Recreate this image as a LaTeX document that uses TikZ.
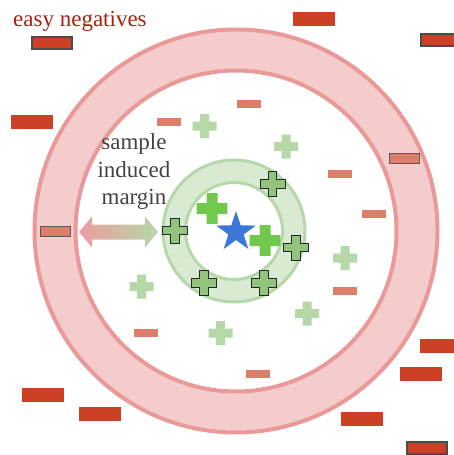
\documentclass[tikz,border=0pt]{standalone}
\usepackage{fontspec}
\setmainfont{Liberation Serif}
\usetikzlibrary{shapes.geometric}

\definecolor{negstrong}{RGB}{204,65,37}
\definecolor{negweak}{RGB}{221,126,107}
\definecolor{ringfill}{RGB}{244,204,204}
\definecolor{ringline}{RGB}{234,153,153}
\definecolor{marginfill}{RGB}{217,234,211}
\definecolor{marginline}{RGB}{182,215,168}
\definecolor{posweak}{RGB}{182,215,168}
\definecolor{posmid}{RGB}{147,196,125}
\definecolor{posstrong}{RGB}{112,200,76}
\definecolor{anchorblue}{RGB}{60,120,216}
\definecolor{easyred}{RGB}{170,32,12}
\definecolor{textgray}{RGB}{67,67,67}

\tikzset{
    pics/cross/.style args = {#1/#2}{code = {
        \path[pic actions] (-#1,-#2) -- (-#2,-#2) -- (-#2,-#1) -- (#2,-#1) --
            (#2,-#2) -- (#1,-#2) -- (#1,#2) -- (#2,#2) -- (#2,#1) --
            (-#2,#1) -- (-#2,#2) -- (-#1,#2) -- cycle;}}
}

\begin{document}
\begin{tikzpicture}[
    x = 1pt, y = -1pt,
    negbig/.style = {draw = none, fill = negstrong, minimum width = 42pt,
        minimum height = 14pt, inner sep = 0pt},
    negbigframed/.style = {fill = negstrong, draw = black!70, line width = 2pt,
        minimum width = 40pt, minimum height = 12pt, inner sep = 0pt},
    negsmall/.style = {draw = none, fill = negweak, minimum width = 24pt,
        minimum height = 8pt, inner sep = 0pt},
    negsmallframed/.style = {fill = negweak, draw = black!65, line width = 1pt,
        minimum width = 30pt, minimum height = 10pt, inner sep = 0pt},
    posfar/.style = {fill = posweak},
    posnear/.style = {fill = posmid, draw = black!85, line width = 1pt},
    posclose/.style = {fill = posstrong},
    every node/.style = {font = \fontsize{23}{27.5}\selectfont}]

\useasboundingbox (0,0) rectangle (454,455);

% rings
\filldraw[fill = ringfill, draw = ringline, line width = 4pt, even odd rule]
      (236,231) circle [radius = 201.5pt]
      (236,231) circle [radius = 160.5pt];
\filldraw[fill = marginfill, draw = marginline, line width = 3pt, even odd rule]
      (234,231) circle [radius = 71pt]
      (234,231) circle [radius = 48.5pt];

% margin arrow
\shade[left color = ringline!95!white, right color = posweak]
      (79,232) -- (92,216.5) -- (92,224.5) -- (145,224.5) -- (145,216.5) --
      (158,232) -- (145,247.5) -- (145,239.5) -- (92,239.5) -- (92,247.5) -- cycle;

% negatives
\path (314,19) node[negbig] (nb1) {}
      (32,122) node[negbig] (nb2) {}
      (43,395) node[negbig] (nb3) {}
      (100,414) node[negbig] (nb4) {}
      (441,346) node[negbig] (nb5) {}
      (421,374) node[negbig] (nb6) {}
      (362,419) node[negbig] (nb7) {}
      (52,43) node[negbigframed] (nf1) {}
      (441,39.5) node[negbigframed] (nf2) {}
      (426.5,448) node[negbigframed] (nf3) {}
      (169,122) node[negsmall] (ns1) {}
      (249,104) node[negsmall] (ns2) {}
      (340,174) node[negsmall] (ns3) {}
      (374,214) node[negsmall] (ns4) {}
      (146,333) node[negsmall] (ns5) {}
      (345,291) node[negsmall] (ns6) {}
      (258,374) node[negsmall] (ns7) {}
      (404.5,158.5) node[negsmallframed] (nm1) {}
      (55.5,231) node[negsmallframed] (nm2) {}
      ;

% positives
\path (204.5,126) pic[posfar] {cross = 12/4.5}
      (286,146.5) pic[posfar] {cross = 12/4.5}
      (141.5,286.5) pic[posfar] {cross = 12/4.5}
      (220.5,333) pic[posfar] {cross = 12/4.5}
      (345,258) pic[posfar] {cross = 12/4.5}
      (307,313.5) pic[posfar] {cross = 12/4.5}
      (272.5,184) pic[posnear] {cross = 12.5/4.2}
      (175,230.5) pic[posnear] {cross = 12.5/4.2}
      (296,247.5) pic[posnear] {cross = 12.5/4.2}
      (204,283) pic[posnear] {cross = 12.5/4.2}
      (264,283) pic[posnear] {cross = 12.5/4.2}
      (212,208.5) pic[posclose] {cross = 15.3/5.5}
      (265,240.5) pic[posclose] {cross = 15.3/5.5}
      ;

% anchor
\node[star, star points = 5, star point ratio = 2.6, fill = anchorblue,
      minimum size = 42pt, inner sep = 0pt] (query) at (236,232) {};

% labels
\path (13,26) node[anchor = base west, inner sep = 0pt, text = easyred] (easy) {easy negatives}
      (134,172) node[align = center, inner sep = 0pt, text = textgray] (margin) {sample\\induced\\margin}
      ;
\end{tikzpicture}
\end{document}
